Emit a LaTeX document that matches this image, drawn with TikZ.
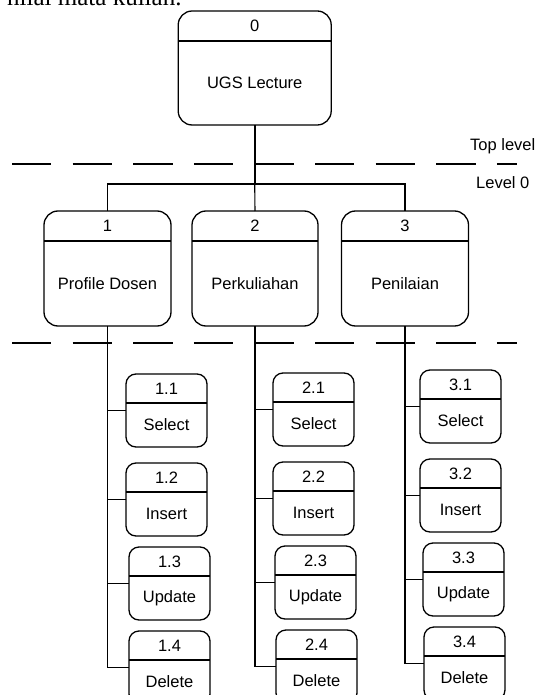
\documentclass[tikz,border=0pt]{standalone}
\usepackage{fontspec}
\setmainfont{Liberation Sans}
\newfontfamily\pagefont{Liberation Serif}
\usetikzlibrary{calc}
\tikzset{
  proc/.style={draw, line width=1.3pt, rounded corners=14pt, inner sep=0pt, outer sep=0pt},
  subproc/.style={proc, rounded corners=10pt},
  lbl/.style={inner sep=0pt, font=\fontsize{16.5}{19}\selectfont},
  divider/.style={line width=1.3pt},
  conn/.style={line width=1.1pt},
  spine/.style={line width=1.7pt},
  levelline/.style={line width=2.3pt, dash pattern=on 39.3pt off 21.3pt},
}
% name, center x, top y, width, height, divider offset, style, number, label
\newcommand{\mkbox}[9]{%
  \node[#7, minimum width=#4pt, minimum height=#5pt, anchor=north] (#1) at (#2,#3) {};
  \draw[divider] ([yshift=-#6pt]#1.north west) -- ([yshift=-#6pt]#1.north east);
  \node[lbl] (#1-num) at ([yshift=-#6pt/2]#1.north) {#8};
  \node[lbl] (#1-name) at ($(#1.south)!0.5!([yshift=-#6pt]#1.north)$) {#9};
}
\begin{document}
\begin{tikzpicture}[x=1pt,y=-1pt]
\path[use as bounding box, fill=white] (0,0) rectangle (537,695);
\clip (0,0) rectangle (537,695);

% cropped page text
\node[anchor=base west, inner sep=0pt, font=\pagefont\fontsize{25}{30}\selectfont] (pagetext) at (7,6) {nilai mata kuliah.};

% level separators
\coordinate (l1a) at (12,164.3);
\coordinate (l1b) at (517,164.3);
\coordinate (l2a) at (12,343.3);
\coordinate (l2b) at (517,343.3);
\draw[levelline] (l1a) -- (l1b);
\draw[levelline] (l2a) -- (l2b);
\node[lbl, anchor=west] (toplevel) at (470,146) {Top level};
\node[lbl, anchor=west] (level0) at (476,183) {Level 0};

% main processes
\mkbox{b0}{254.7}{11}{153}{114}{30}{proc}{0}{UGS Lecture}
\mkbox{b1}{107.5}{211}{127}{115}{30}{proc}{1}{Profile Dosen}
\mkbox{b2}{255}{211}{126}{115}{30}{proc}{2}{Perkuliahan}
\mkbox{b3}{405}{211}{127}{115}{30}{proc}{3}{Penilaian}

% sub processes
\mkbox{b11}{166.5}{374}{81}{73}{29}{subproc}{1.1}{Select}
\mkbox{b12}{166.5}{463}{81}{73}{29}{subproc}{1.2}{Insert}
\mkbox{b13}{169.5}{547}{81}{73}{29}{subproc}{1.3}{Update}
\mkbox{b14}{169.5}{631}{81}{73}{29}{subproc}{1.4}{Delete}
\mkbox{b21}{313.5}{373}{81}{73}{29}{subproc}{2.1}{Select}
\mkbox{b22}{313.5}{462}{81}{73}{29}{subproc}{2.2}{Insert}
\mkbox{b23}{315.5}{546}{81}{73}{29}{subproc}{2.3}{Update}
\mkbox{b24}{316.5}{630}{81}{73}{29}{subproc}{2.4}{Delete}
\mkbox{b31}{460.5}{370}{81}{73}{29}{subproc}{3.1}{Select}
\mkbox{b32}{460.5}{459}{81}{73}{29}{subproc}{3.2}{Insert}
\mkbox{b33}{463.5}{543}{81}{73}{29}{subproc}{3.3}{Update}
\mkbox{b34}{464.5}{627}{81}{73}{29}{subproc}{3.4}{Delete}

% top-level connectors
\coordinate (j0) at (254.7,184);
\draw[spine] (b0.south) -- (j0);
\draw[conn] (j0) -- (b2.north);
\draw[conn] (b1.north) |- (j0) -| (b3.north);

% spines and branches
\foreach \g in {1,2,3}{
  \draw[spine] (b\g.south) |- (b\g4.west);
  \foreach \k in {1,2,3}{
    \draw[conn] (b\g.south |- b\g\k.west) -- (b\g\k.west);
  }
}
\end{tikzpicture}
\end{document}
